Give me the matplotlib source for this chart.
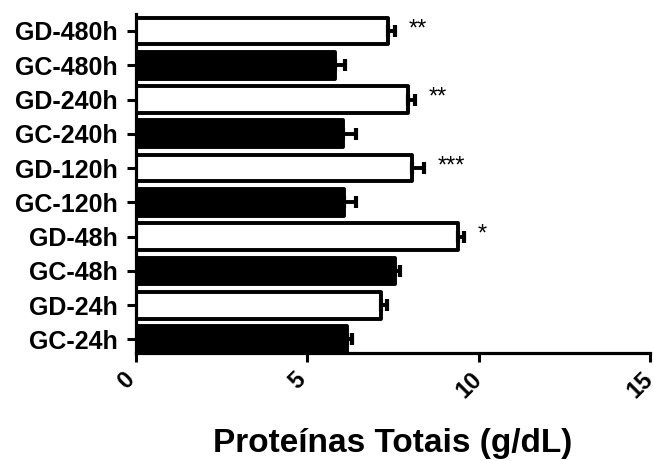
import numpy as np
import matplotlib.pyplot as plt
import matplotlib.transforms as mtransforms

plt.rcParams['font.family'] = ['Liberation Sans', 'DejaVu Sans']

# groups, bottom to top
groups = ['GC-24h', 'GD-24h', 'GC-48h', 'GD-48h', 'GC-120h', 'GD-120h',
          'GC-240h', 'GD-240h', 'GC-480h', 'GD-480h']
means = [6.15, 7.15, 7.55, 9.4, 6.07, 8.05, 6.03, 7.95, 5.8, 7.35]
sems = [0.15, 0.17, 0.15, 0.18, 0.35, 0.35, 0.4, 0.2, 0.3, 0.2]
stars = ['', '', '', '*', '', '***', '', '**', '', '**']

y = np.arange(len(groups))
fills = ['black' if g.startswith('GC') else 'white' for g in groups]

fig, ax = plt.subplots(figsize=(6.54, 4.61), dpi=100)
fig.subplots_adjust(left=0.208, right=0.994, bottom=0.234, top=0.970)

bars = ax.barh(y, means, height=0.78, color=fills, edgecolor='black',
               linewidth=2.8, zorder=2)
for b in bars:
    b.set_joinstyle('round')

ax.errorbar(means, y, xerr=[np.zeros(len(means)), sems], fmt='none',
            ecolor='black', elinewidth=2.8, capsize=4.5, capthick=3, zorder=3)

for yi, m, s, st in zip(y, means, sems, stars):
    if st:
        ax.text(m + s + 0.4, yi + 0.05, st, va='center', ha='left', fontsize=17)

ax.set_xlim(0, 15)
ax.set_ylim(-0.4, 9.5)
ax.set_xticks([0, 5, 10, 15])
ax.set_yticks(y)
ax.set_yticklabels(groups, fontsize=18, fontweight='bold')

ax.spines['top'].set_visible(False)
ax.spines['right'].set_visible(False)
for sp in ['left', 'bottom']:
    ax.spines[sp].set_linewidth(2.3)
ax.tick_params(axis='both', width=2.2, length=6.5, direction='out')
ax.tick_params(axis='x', pad=4)
ax.tick_params(axis='y', pad=7)

# nudge the rotated x labels left so "15" stays inside the figure
shift = mtransforms.ScaledTranslation(-10 / 100, 0, fig.dpi_scale_trans)
for lbl in ax.get_xticklabels():
    lbl.set_rotation(45)
    lbl.set_fontweight('bold')
    lbl.set_fontsize(17)
    lbl.set_ha('center')
    lbl.set_va('top')
    lbl.set_transform(lbl.get_transform() + shift)

ax.set_xlabel('Proteínas Totais (g/dL)', fontsize=24, fontweight='bold', labelpad=18)

plt.savefig('out.png', dpi=100)
